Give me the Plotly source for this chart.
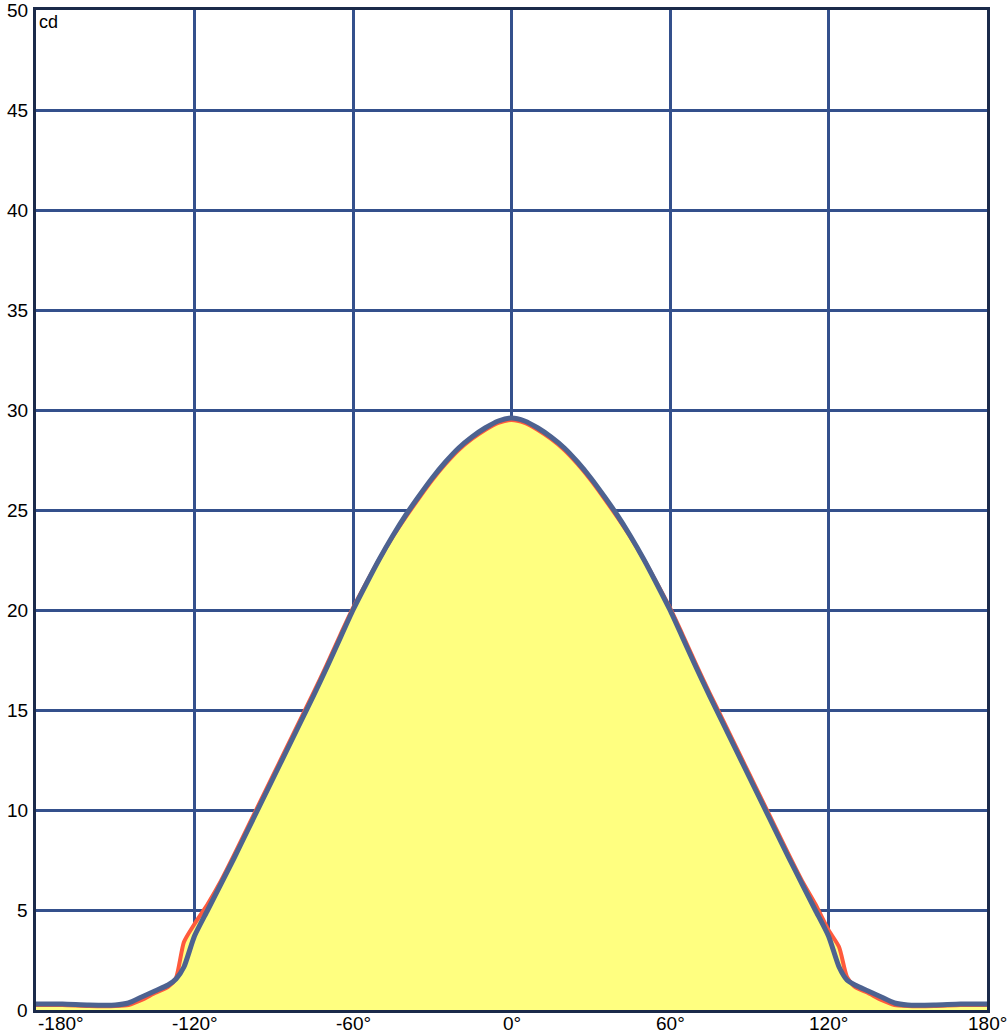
import plotly.graph_objects as go

# luminous intensity distribution (cd)
angles = [-180, -170, -160, -150, -145, -140, -135, -130, -127, -124, -120, -115,
          -110, -105, -100, -95, -90, -85, -80, -75, -70, -65, -60, -55, -50,
          -45, -40, -35, -30, -25, -20, -15, -10, -5, 0, 5, 10, 15, 20, 25, 30,
          35, 40, 45, 50, 55, 60, 65, 70, 75, 80, 85, 90, 95, 100, 105, 110,
          115, 120, 124, 127, 130, 135, 140, 145, 150, 160, 170, 180]

plane_c0 = [0.25, 0.25, 0.2, 0.2, 0.25, 0.5, 0.85, 1.15, 1.6, 3.4, 4.3, 5.3,
            6.45, 7.75, 9.1, 10.45, 11.8, 13.15, 14.5, 15.85, 17.25, 18.7, 20.1, 21.35,
            22.55, 23.65, 24.65, 25.6, 26.5, 27.3, 28.0, 28.55, 29.0, 29.35, 29.5, 29.35,
            29.0, 28.55, 28.0, 27.3, 26.5, 25.6, 24.65, 23.65, 22.55, 21.35, 20.1, 18.7,
            17.25, 15.85, 14.5, 13.15, 11.8, 10.45, 9.1, 7.75, 6.45, 5.3, 4.0, 3.15,
            1.65, 1.15, 0.85, 0.5, 0.25, 0.2, 0.2, 0.25, 0.25]

plane_c90 = [0.3, 0.3, 0.25, 0.25, 0.35, 0.65, 0.95, 1.25, 1.55, 2.15, 3.7, 5.0,
             6.3, 7.6, 8.95, 10.3, 11.65, 13.0, 14.35, 15.7, 17.1, 18.55, 20.0, 21.3,
             22.55, 23.7, 24.75, 25.7, 26.6, 27.4, 28.1, 28.65, 29.1, 29.45, 29.6, 29.45,
             29.1, 28.65, 28.1, 27.4, 26.6, 25.7, 24.75, 23.7, 22.55, 21.3, 20.0, 18.55,
             17.1, 15.7, 14.35, 13.0, 11.65, 10.3, 8.95, 7.6, 6.3, 5.0, 3.7, 2.15,
             1.5, 1.25, 0.95, 0.65, 0.35, 0.25, 0.25, 0.3, 0.3]

x_ticks = [-180, -120, -60, 0, 60, 120, 180]
x_labels = ["-180°", "-120°", "-60°", "0°", "60°", "120°", "180°"]
y_ticks = list(range(0, 51, 5))

grid = "#34508c"
frame = "#1b2a4a"

fig = go.Figure()
fig.add_trace(go.Scatter(
    x=angles, y=plane_c0, mode="lines", fill="tozeroy",
    fillcolor="#ffff80", line=dict(color="#ff5a3c", width=4),
    line_shape="spline", line_smoothing=0.6, showlegend=False))
fig.add_trace(go.Scatter(
    x=angles, y=plane_c90, mode="lines",
    line=dict(color="#4d6290", width=5),
    line_shape="spline", line_smoothing=0.6, showlegend=False))

fig.add_annotation(x=0, y=1, xref="paper", yref="paper", text="cd",
                   showarrow=False, xanchor="left", yanchor="top",
                   xshift=1, yshift=0, font=dict(size=18, color="black"))

# tick labels as annotations: the first x label sits inside the frame,
# and the top y label must not be dropped at the page edge
for t, lab in zip(x_ticks, x_labels):
    fig.add_annotation(x=t, y=0, xref="x", yref="paper", text=lab,
                       showarrow=False, yanchor="top", yshift=-1,
                       xanchor="left" if t == x_ticks[0] else "center",
                       font=dict(size=19, color="black"))
for t in y_ticks:
    fig.add_annotation(x=0, y=t, xref="paper", yref="y", text=str(t),
                       showarrow=False, xanchor="right", yanchor="middle",
                       xshift=-6, font=dict(size=19, color="black"))

fig.update_xaxes(range=[-180, 180], tickvals=x_ticks, showticklabels=False,
                 showgrid=True, gridcolor=grid, gridwidth=2.5, zeroline=False,
                 showline=True, linecolor=frame, linewidth=2.5, mirror=True,
                 ticks="", layer="above traces", automargin=False)
fig.update_yaxes(range=[0, 50], tickvals=y_ticks, showticklabels=False,
                 showgrid=True, gridcolor=grid, gridwidth=2.5, zeroline=False,
                 showline=True, linecolor=frame, linewidth=2.5, mirror=True,
                 ticks="", layer="above traces", automargin=False)

fig.update_layout(
    width=1008, height=1034,
    margin=dict(l=36, r=21, t=10, b=24),
    plot_bgcolor="white", paper_bgcolor="white",
    font=dict(family="Liberation Sans, Arial, sans-serif", size=19, color="black"),
)

fig.write_html("out.html", config={"displayModeBar": False},
               post_script="document.body.style.margin = '0';")
